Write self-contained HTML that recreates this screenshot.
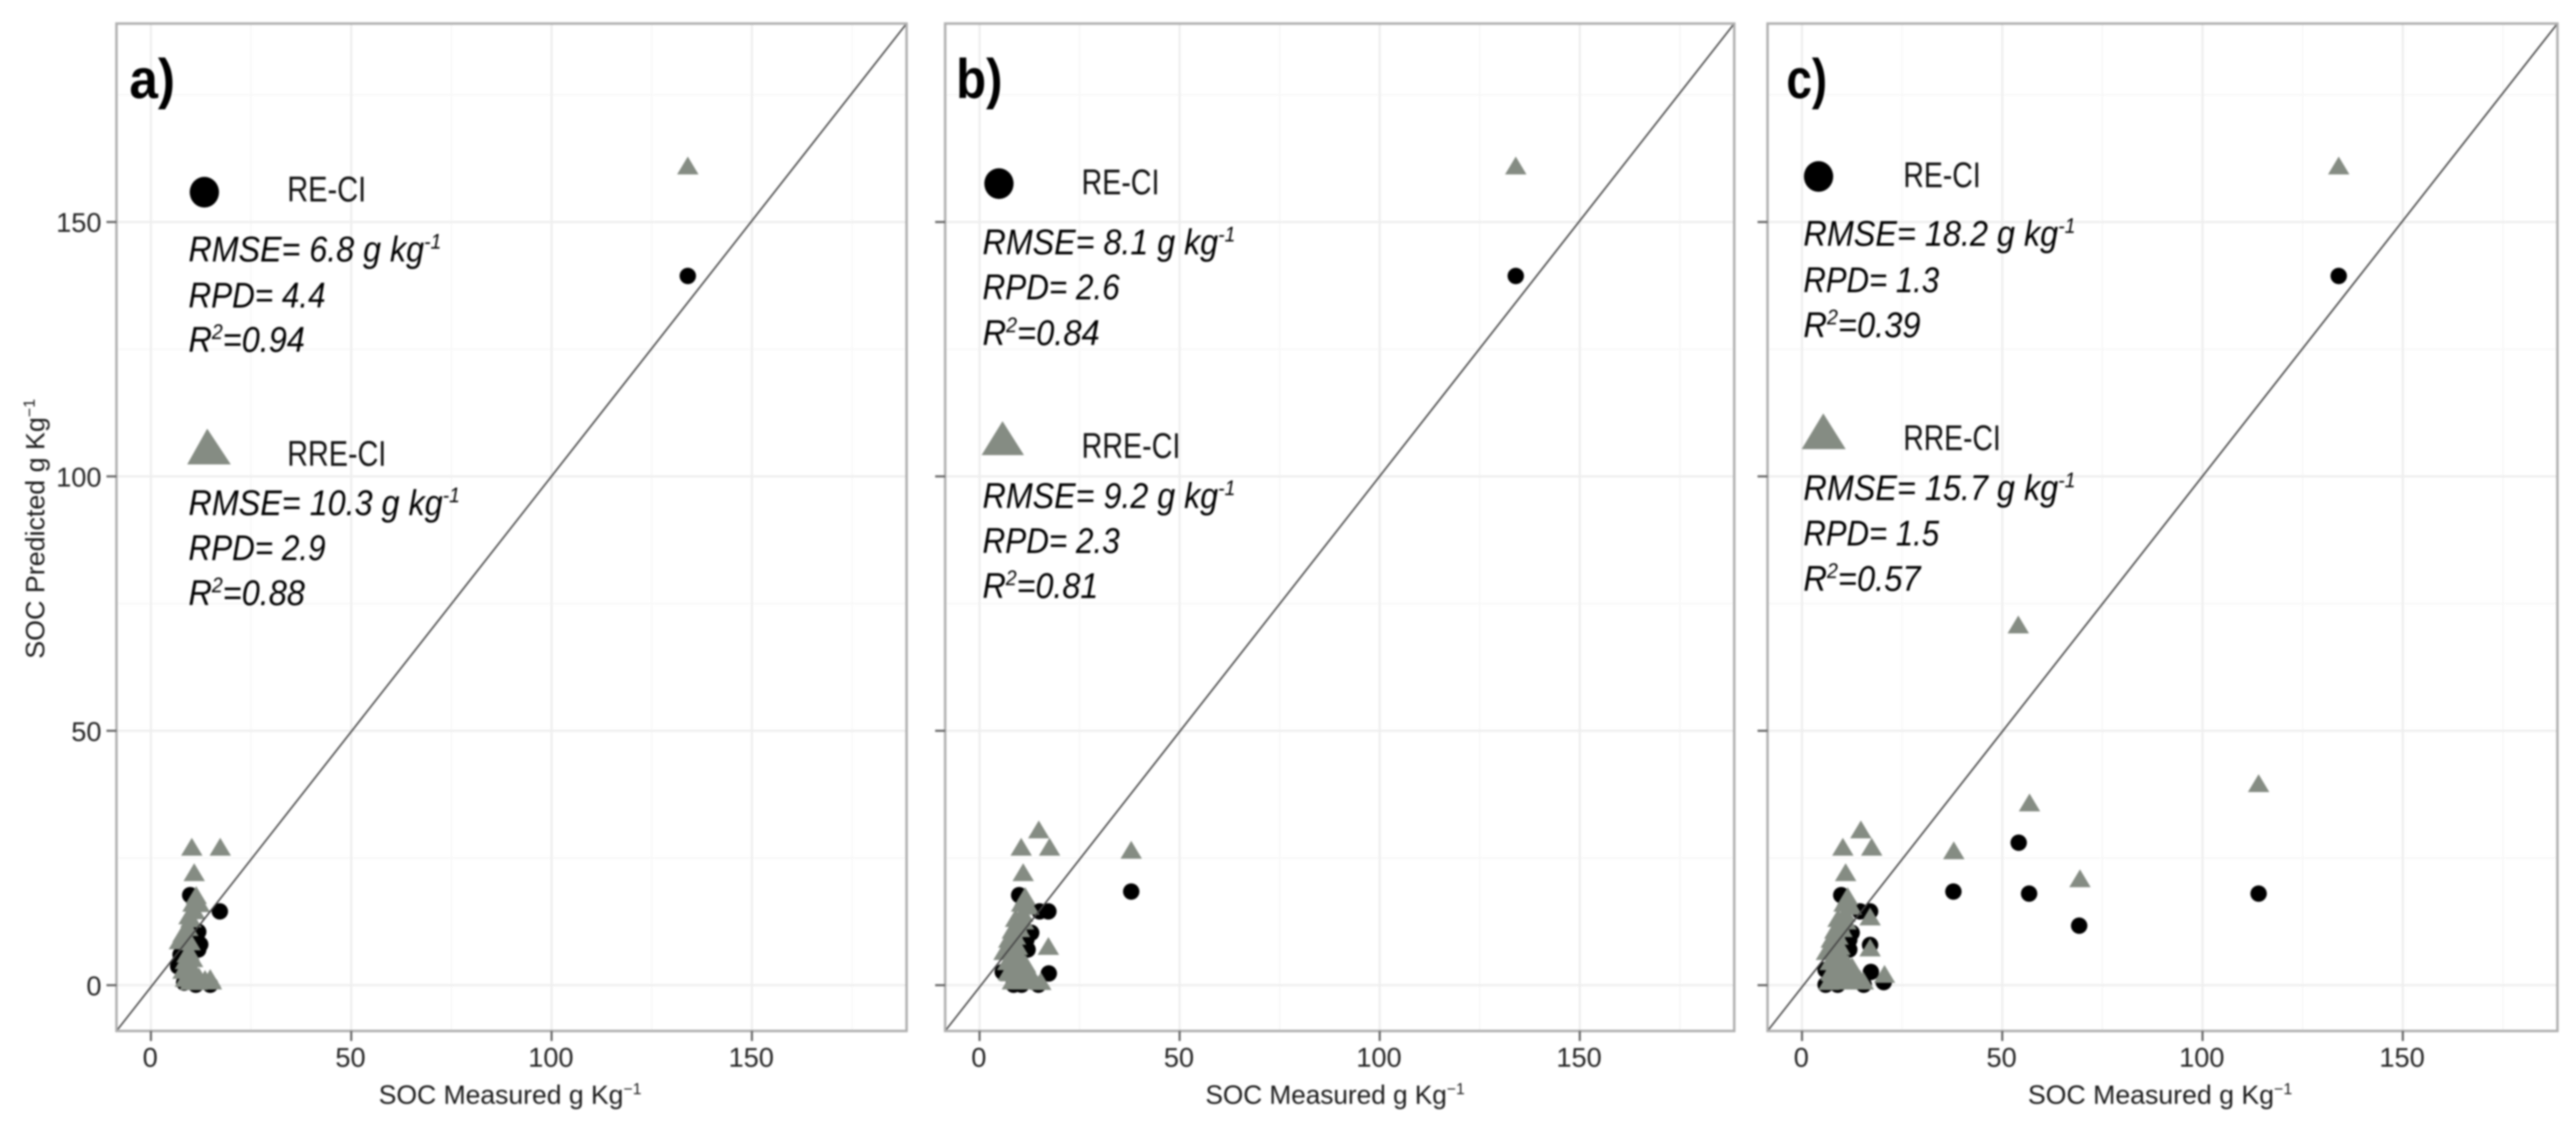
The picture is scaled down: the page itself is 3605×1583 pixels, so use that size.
<!DOCTYPE html>
<html lang="en">
<head>
<meta charset="utf-8">
<title>SOC measured vs predicted</title>
<style>
html,body{margin:0;padding:0;background:#fff;width:3605px;height:1583px;overflow:hidden}
svg{display:block;filter:blur(1.2px)}
text{font-family:"Liberation Sans",sans-serif}
</style>
</head>
<body>
<svg id="chart" xmlns="http://www.w3.org/2000/svg" width="3605" height="1583" viewBox="0 0 3605 1583"></svg>
<script>
// ----- Axis data -----
const xDomain = [-8.6, 188.6];
const yDomain = [-9, 189];
const majorTicks = [0, 50, 100, 150];
const minorTicks = [25, 75, 125, 175];
const yAxisTitle = "SOC Predicted g Kg";
const xAxisTitle = "SOC Measured g Kg";
const unitExponent = "\u22121";

// ----- Panel a -----
const reMeasuredA = [134, 9.8, 17.2, 11.8, 11.5, 11.8, 7.4, 6.8, 8.3, 11.2, 14.8, 10.5, 8.8, 12.3];
const rePredictedA = [139.4, 17.7, 14.5, 10.5, 8.9, 7, 6, 3.7, 0.5, 0.1, 0.1, 9.5, 5, 8];
const rreMeasuredA = [134, 10.2, 17.3, 10.8, 11.3, 12.1, 10.9, 10, 9.2, 8, 7.1, 9.8, 9.5, 8.6, 10.4, 8, 9.8, 8.6, 10.9, 13.3, 14.8, 15.1, 11.5, 9.8, 10.5, 9.5, 8.7, 9, 9.5, 10.5, 12, 13.5];
const rrePredictedA = [160.9, 27, 27, 22, 17.5, 15.9, 14.5, 12.9, 11.2, 10, 8.6, 8.4, 6.5, 4.7, 5.1, 2.8, 2.8, 1.2, 0.9, 0.7, 1.2, 0.7, 0.6, 0.6, 16, 13.5, 9.5, 6, 3.8, 3, 1.5, 1];

// ----- Panel b -----
const reMeasuredB = [134, 37.9, 9.9, 17.2, 15, 12.9, 11.7, 12, 5.8, 17.3, 14.7, 10.5, 8.5];
const rePredictedB = [139.4, 18.4, 17.7, 14.5, 14.5, 10.3, 8.9, 7, 2.6, 2.3, 0.1, 0.1, 0.1];
const rreMeasuredB = [134, 10.4, 14.8, 17.5, 10.9, 37.9, 17.2, 11.4, 12.3, 10.8, 9.3, 8.2, 7.3, 6.1, 9.3, 8.8, 10.5, 7.6, 9.9, 11.7, 12.9, 8.2, 10.5, 13.5, 15.3, 8, 7.7, 8.5, 8, 9.5, 8, 9, 10.5, 8.5, 10, 11.5, 13, 9, 10.5, 11, 10, 9, 9.5, 7, 7.2, 11.5];
const rrePredictedB = [160.9, 27, 30.4, 27, 22, 26.4, 7.5, 17.3, 15.4, 14, 12.1, 10.7, 8.9, 6.5, 6.5, 4.2, 4.2, 2.3, 2.3, 2.8, 1.9, 0.7, 0.7, 0.7, 0.6, 9, 7.5, 7.5, 5.5, 5, 3.5, 3, 3, 1, 1, 1, 1, 13, 16, 12.5, 11, 9.5, 7.5, 4.5, 2.5, 4];

// ----- Panel c -----
const reMeasuredC = [134, 37.8, 54.1, 56.7, 69.2, 114, 9.8, 17, 14.5, 12.4, 11.8, 11.8, 17, 17.2, 5.9, 20.4, 5.9, 8.9, 15.4];
const rePredictedC = [139.4, 18.4, 28, 18, 11.7, 18, 17.7, 14.5, 14.5, 10.3, 8.9, 7, 7.9, 2.6, 3, 0.6, 0.1, 0.1, 0.1];
const rreMeasuredC = [134, 54, 10.2, 14.7, 17.4, 10.9, 37.9, 56.8, 69.4, 114, 17, 17, 20.6, 11.4, 12.3, 10.8, 9.3, 8.2, 7.3, 6.1, 9.3, 8.8, 10.5, 7.6, 9.9, 11.7, 12.9, 8.2, 10.5, 13.5, 15.3, 6.7, 7.5, 12.5, 13.4, 14.5, 8, 7.7, 8.5, 8, 9.5, 8, 9, 10.5, 8.5, 10, 11.5, 13, 9, 10.5, 11, 10, 9, 9.5, 7, 7.2, 11.5];
const rrePredictedC = [160.9, 70.7, 27, 30.4, 27, 22, 26.3, 35.7, 20.8, 39.5, 13.3, 7.2, 2, 17.3, 15.4, 14, 12.1, 10.7, 8.9, 6.5, 6.5, 4.2, 4.2, 2.3, 2.3, 2.8, 1.9, 0.7, 0.7, 0.7, 0.7, 0.6, 2.8, 3.5, 2.2, 1, 9, 7.5, 7.5, 5.5, 5, 3.5, 3, 3, 1, 1, 1, 1, 13, 16, 12.5, 11, 9.5, 7.5, 4.5, 2.5, 4];

// ----- Printed labels -----
const panelLetters = ["a)", "b)", "c)"];
const legendNames = ["RE-CI", "RRE-CI"];
const statsA = [["RMSE= 6.8 g kg", "-1", ""], ["RPD= 4.4", "", ""], ["R", "2", "=0.94"], ["RMSE= 10.3 g kg", "-1", ""], ["RPD= 2.9", "", ""], ["R", "2", "=0.88"]];
const statsB = [["RMSE= 8.1 g kg", "-1", ""], ["RPD= 2.6", "", ""], ["R", "2", "=0.84"], ["RMSE= 9.2 g kg", "-1", ""], ["RPD= 2.3", "", ""], ["R", "2", "=0.81"]];
const statsC = [["RMSE= 18.2 g kg", "-1", ""], ["RPD= 1.3", "", ""], ["R", "2", "=0.39"], ["RMSE= 15.7 g kg", "-1", ""], ["RPD= 1.5", "", ""], ["R", "2", "=0.57"]];

// ----- Layout (not data) -----
const NS = "http://www.w3.org/2000/svg";
const svg = document.getElementById("chart");
const panelTop = 33, panelBottom = 1443;
const layouts = [
  { key: "a", left: 163, right: 1268.7, xTitle: [530, 898], letter: [181, 245], circle: [286, 269], reLabel: [402, 512.5, 282],
    tri: [290, 262, 323, 600, 650], rreLabel: [402, 540.6, 652],
    widths: [354, 192, 163, 380, 192, 163], base: [366, 430.5, 492.5, 721, 784, 847], tx: 263.7,
    re: [reMeasuredA, rePredictedA], rre: [rreMeasuredA, rrePredictedA], stats: statsA, yLabels: true },
  { key: "b", left: 1322.7, right: 2427, xTitle: [1687, 2050], letter: [1338, 1403], circle: [1398, 257], reLabel: [1513.6, 1622.6, 272],
    tri: [1403, 1373.7, 1433, 589.5, 637], rreLabel: [1513.6, 1652, 641],
    widths: [354, 192, 164, 354, 192, 162], base: [356, 419, 483, 711, 774, 837], tx: 1375,
    re: [reMeasuredB, rePredictedB], rre: [rreMeasuredB, rrePredictedB], stats: statsB, yLabels: false },
  { key: "c", left: 2473.6, right: 3579, xTitle: [2838, 3208], letter: [2500, 2557], circle: [2545, 247], reLabel: [2663.6, 2772, 262],
    tri: [2551.6, 2521.4, 2583, 578.6, 628.6], rreLabel: [2663.6, 2800, 630],
    widths: [381, 190, 164, 381, 190, 164], base: [344, 409, 472, 700, 763.5, 827], tx: 2523.7,
    re: [reMeasuredC, rePredictedC], rre: [rreMeasuredC, rrePredictedC], stats: statsC, yLabels: false }
];

function mk(tag, parent) {
  const el = document.createElementNS(NS, tag);
  parent.appendChild(el);
  return el;
}
function xScale(p, v) {
  return p.left + (v - xDomain[0]) / (xDomain[1] - xDomain[0]) * (p.right - p.left);
}
function yScale(v) {
  return panelBottom - (v - yDomain[0]) / (yDomain[1] - yDomain[0]) * (panelBottom - panelTop);
}
function setLine(el, x1, y1, x2, y2, color, width) {
  el.setAttribute("x1", x1);
  el.setAttribute("y1", y1);
  el.setAttribute("x2", x2);
  el.setAttribute("y2", y2);
  el.setAttribute("stroke", color);
  el.setAttribute("stroke-width", width);
}
function trianglePoints(cx, apexY, baseY, halfW) {
  return cx + "," + apexY + " " + (cx - halfW) + "," + baseY + " " + (cx + halfW) + "," + baseY;
}
// Squeeze a text horizontally so it spans the measured width (the source font is narrow).
function fitText(el, x, y, width) {
  const w = el.getComputedTextLength();
  el.setAttribute("transform", "translate(" + x + "," + y + ") scale(" + (width / w) + ",1)");
}
function writeParts(el, parts, size) {
  const a = mk("tspan", el);
  a.textContent = parts[0];
  if (parts[1]) {
    const s = mk("tspan", el);
    s.setAttribute("dy", -size * 0.36);
    s.setAttribute("font-size", size * 0.6);
    s.textContent = parts[1];
  }
  if (parts[2]) {
    const b = mk("tspan", el);
    b.setAttribute("dy", size * 0.36);
    b.textContent = parts[2];
  }
}

layouts.forEach(function (p, i) {
  const g = mk("g", svg);
  
  

  // gridlines
  minorTicks.forEach(function (t) {
    const v = mk("line", g);
    
    
    setLine(v, xScale(p, t), panelTop, xScale(p, t), panelBottom, "#f7f7f7", 2);
    const h = mk("line", g);
    
    
    setLine(h, p.left, yScale(t), p.right, yScale(t), "#f7f7f7", 2);
  });
  majorTicks.forEach(function (t) {
    const v = mk("line", g);
    
    
    setLine(v, xScale(p, t), panelTop, xScale(p, t), panelBottom, "#eeeeee", 3);
    const h = mk("line", g);
    
    
    setLine(h, p.left, yScale(t), p.right, yScale(t), "#eeeeee", 3);
  });

  // RE-CI points under RRE-CI points
  p.re[0].forEach(function (mx, j) {
    const c = mk("circle", g);
    
    
    c.setAttribute("cx", xScale(p, mx));
    c.setAttribute("cy", yScale(p.re[1][j]));
    c.setAttribute("r", 11.5);
    c.setAttribute("fill", "#000");
  });
  p.rre[0].forEach(function (mx, j) {
    const t = mk("polygon", g);
    
    
    const cx = xScale(p, mx), cy = yScale(p.rre[1][j]);
    t.setAttribute("points", trianglePoints(cx, cy - 14, cy + 11, 15));
    t.setAttribute("fill", "#858c83");
  });

  // identity line
  const d = mk("line", g);
  
  
  setLine(d, p.left, panelBottom, p.right, panelTop, "#444444", 2.2);

  // border
  const b = mk("rect", g);
  
  
  b.setAttribute("x", p.left);
  b.setAttribute("y", panelTop);
  b.setAttribute("width", p.right - p.left);
  b.setAttribute("height", panelBottom - panelTop);
  b.setAttribute("fill", "none");
  b.setAttribute("stroke", "#b0b0b0");
  b.setAttribute("stroke-width", 3.5);

  // ticks and tick labels
  majorTicks.forEach(function (t) {
    const xt = mk("line", g);
    
    
    setLine(xt, xScale(p, t), panelBottom, xScale(p, t), panelBottom + 14, "#666666", 3);
    const xl = mk("text", g);
    
    
    xl.setAttribute("x", xScale(p, t) - 1);
    xl.setAttribute("y", 1493);
    xl.setAttribute("font-size", 38);
    xl.setAttribute("text-anchor", "middle");
    xl.setAttribute("fill", "#222");
    xl.textContent = t;
    const yt = mk("line", g);
    
    
    setLine(yt, p.left - 14, yScale(t), p.left, yScale(t), "#666666", 3);
    if (p.yLabels) {
      const yl = mk("text", g);
      
      
      yl.setAttribute("x", p.left - 21);
      yl.setAttribute("y", yScale(t) + 14);
      yl.setAttribute("font-size", 38);
      yl.setAttribute("text-anchor", "end");
      yl.setAttribute("fill", "#222");
      yl.textContent = t;
    }
  });

  // x axis title
  const xT = mk("text", g);
  
  
  xT.setAttribute("font-size", 37);
  xT.setAttribute("fill", "#1a1a1a");
  writeParts(xT, [xAxisTitle, unitExponent, ""], 37);
  fitText(xT, p.xTitle[0], 1545, p.xTitle[1] - p.xTitle[0]);

  // y axis title (first panel only)
  if (p.yLabels) {
    const yT = mk("text", g);
    
    
    yT.setAttribute("font-size", 37);
    yT.setAttribute("fill", "#1a1a1a");
    writeParts(yT, [yAxisTitle, unitExponent, ""], 37);
    const w = yT.getComputedTextLength();
    yT.setAttribute("transform", "translate(62,922) rotate(-90) scale(" + (364 / w) + ",1)");
  }

  // panel letter
  const L = mk("text", g);
  
  
  L.setAttribute("font-size", 78);
  L.setAttribute("font-weight", "bold");
  L.setAttribute("fill", "#000");
  L.textContent = panelLetters[i];
  fitText(L, p.letter[0], 137, p.letter[1] - p.letter[0]);

  // in-plot legend
  const lc = mk("ellipse", g);
  
  
  lc.setAttribute("cx", p.circle[0]);
  lc.setAttribute("cy", p.circle[1]);
  lc.setAttribute("rx", 20.5);
  lc.setAttribute("ry", 21.5);
  lc.setAttribute("fill", "#000");

  const lt = mk("polygon", g);
  
  
  lt.setAttribute("points", p.tri[0] + "," + p.tri[3] + " " + p.tri[1] + "," + p.tri[4] + " " + p.tri[2] + "," + p.tri[4]);
  lt.setAttribute("fill", "#858c83");

  const n1 = mk("text", g);
  
  
  n1.setAttribute("font-size", 50);
  n1.setAttribute("fill", "#111");
  n1.textContent = legendNames[0];
  fitText(n1, p.reLabel[0], p.reLabel[2], p.reLabel[1] - p.reLabel[0]);

  const n2 = mk("text", g);
  
  
  n2.setAttribute("font-size", 50);
  n2.setAttribute("fill", "#111");
  n2.textContent = legendNames[1];
  fitText(n2, p.rreLabel[0], p.rreLabel[2], p.rreLabel[1] - p.rreLabel[0]);

  // statistics annotations
  p.stats.forEach(function (parts, j) {
    const s = mk("text", g);
    
    
    s.setAttribute("font-size", 50);
    s.setAttribute("font-style", "italic");
    s.setAttribute("fill", "#000");
    writeParts(s, parts, 50);
    fitText(s, p.tx, p.base[j], p.widths[j]);
  });
});
</script>
</body>
</html>
